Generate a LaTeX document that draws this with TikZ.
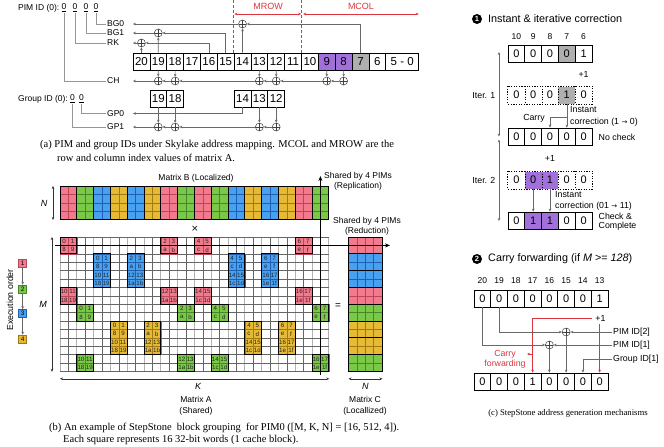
\documentclass[tikz,border=0pt]{standalone}
\usepackage{fontspec}
\setmainfont{Liberation Serif}
\setsansfont{Liberation Sans}
\newfontfamily\djv{DejaVu Sans}
\usetikzlibrary{arrows.meta}
\definecolor{cP}{RGB}{243,122,140}
\definecolor{dP}{RGB}{185,70,90}
\definecolor{cG}{RGB}{122,200,72}
\definecolor{dG}{RGB}{70,135,40}
\definecolor{cB}{RGB}{72,160,240}
\definecolor{dB}{RGB}{30,95,175}
\definecolor{cY}{RGB}{230,186,52}
\definecolor{dY}{RGB}{160,120,20}
\definecolor{purp}{RGB}{162,112,218}
\definecolor{grayb}{RGB}{175,175,175}
\definecolor{redc}{RGB}{222,52,62}
\definecolor{connc}{RGB}{105,105,105}
\definecolor{leadc}{RGB}{150,150,150}
\newcommand\fsz[1]{\fontsize{#1}{#1}\selectfont}
\newcommand\mblock[5]{%
  \foreach \l [count=\k from 0] in {#5} {
    \pgfmathsetmacro\xx{60+8.4*(#1+mod(\k,2))}
    \pgfmathsetmacro\yy{237+8.4*(#2+floor(\k/2))}
    \filldraw[fill=c#4, draw=d#4, line width=0.4pt] (\xx,\yy) rectangle ++(8.4,8.4);
    \node[celltxt] at ({\xx+4.2},{\yy+4.4}) {\l};
  }
  \draw[black, line width=0.8pt] ({60+8.4*#1},{237+8.4*#2}) rectangle ++(16.8,{8.4*#3});
}
\begin{document}
\begin{tikzpicture}[x=1pt,y=-1pt,
  >={Stealth[length=3pt,width=2.6pt]},
  font=\sffamily\fsz{8.5},
  bitbox/.style={draw=black, line width=0.7pt, minimum width=16.85pt, minimum height=17pt, inner sep=0, font=\sffamily\fsz{11.5}, fill=white},
  cbox/.style={bitbox, minimum width=16.8pt, font=\sffamily\fsz{11}},
  nbox/.style={cbox, draw=none},
  dotbox/.style={black, line width=0.7pt, dash pattern=on 1.3pt off 1.3pt},
  xo/.style={circle, draw=black!75, line width=0.5pt, minimum size=8pt, inner sep=0, fill=white,
     path picture={\draw[black!75, line width=0.5pt] (path picture bounding box.north) -- (path picture bounding box.south) (path picture bounding box.west) -- (path picture bounding box.east);}},
  conn/.style={draw=connc, line width=0.6pt},
  lead/.style={draw=leadc, line width=0.6pt},
  side/.style={anchor=west, inner xsep=1.5pt, inner ysep=0, text width=24pt, font=\sffamily\fsz{8.5}},
  side2/.style={anchor=west, inner xsep=1.5pt, inner ysep=0, font=\sffamily\fsz{8.8}},
  capt/.style={font=\rmfamily\fsz{10.5}, inner sep=0, anchor=west},
  celltxt/.style={font=\sffamily\fsz{6.2}, inner sep=0, text=black!85},
  ebox/.style={minimum size=8pt, inner sep=0, line width=0.5pt, font=\sffamily\fsz{6.5}},
  small/.style={font=\sffamily\fsz{8.8}, inner sep=0},
  bignum/.style={font=\sffamily\fsz{8.5}, inner sep=0},
  bigarrow/.style={black, line width=1.1pt, -{Stealth[length=5pt,width=4pt]}},
  dimarrow/.style={black!80, line width=0.6pt, <->}
]
\useasboundingbox (0,0) rectangle (664,447);

%%%%%%%%%%%%%%%%%%%% (a)
\coordinate (topln) at (0,0);
\node[anchor=west, inner sep=0] (pimid) at (18,8) {PIM ID (0):};
\foreach \n/\x in {p3/64,p2/75,p1/86,p0/96} \node[inner sep=0.5pt] (\n) at (\x,8) {\underline{0}};
\node[side] (bg0) at (105.5,24) {BG0};
\node[side] (bg1) at (105.5,33) {BG1};
\node[side] (rk) at (105.5,43) {RK};
\node[side] (ch) at (105.5,81) {CH};
\node[side] (gp0) at (105.5,113.5) {GP0};
\node[side] (gp1) at (105.5,127) {GP1};
\draw[lead] (p0.south) |- (bg0.west);
\draw[lead] (p1.south) |- (bg1.west);
\draw[lead] (p2.south) |- (rk.west);
\draw[lead] (p3.south) |- (ch.west);

\foreach \t/\c [count=\i from 0] in {20/white,19/white,18/white,17/white,16/white,15/white,14/white,13/white,12/white,11/white,10/white,9/purp,8/purp,7/grayb,6/white}
  \node[bitbox, fill=\c] (b\t) at ({141.425+16.85*\i},61.5) {\t};
\node[bitbox, minimum width=33pt] (b50) at (402.25,61.5) {5 - 0};

\node[xo] (xbg0) at (242.525,24) {};
\node[xo] (xbg1) at (158.275,33) {};
\node[xo] (xrk) at (141.425,43) {};
\draw[conn,->] (b7.north) |- (xbg0);
\draw[conn,->] (b14.north) -- (xbg0);
\draw[conn,->] (xbg0) -- (bg0);
\draw[conn,->] (b15.north) |- (xbg1);
\draw[conn,->] (b19.north) -- (xbg1);
\draw[conn,->] (xbg1) -- (bg1);
\draw[conn,->] (b16.north) |- (xrk);
\draw[conn,->] (b20.north) -- (xrk);
\draw[conn,->] (xrk) -- (rk);

\foreach \t/\x in {19/158.275,18/175.125,13/259.375,12/276.225,9/326.775,8/343.625} {
  \node[xo] (xc\t) at (\x,81) {};
  \draw[conn,->] (b\t.south) -- (xc\t);
}
\draw[conn,->] (xc8) -- (xc9);
\draw[conn,->] (xc9) -- (xc12);
\draw[conn,->] (xc12) -- (xc13);
\draw[conn,->] (xc13) -- (xc18);
\draw[conn,->] (xc18) -- (xc19);
\draw[conn,->] (xc19) -- (ch);

\node[anchor=west, inner sep=0] (gid) at (18,99) {Group ID (0):};
\node[inner sep=0.5pt] (q1) at (72.5,99) {\underline{0}};
\node[inner sep=0.5pt] (q0) at (81.5,99) {\underline{0}};
\draw[lead] (q0.south) |- (gp0.west);
\draw[lead] (q1.south) |- (gp1.west);
\foreach \t/\x in {19/158.275,18/175.125,14/242.525,13/259.375,12/276.225}
  \node[bitbox] (g\t) at (\x,98.5) {\t};
\draw[conn,->] (g14.south) |- (gp0);
\foreach \t/\x in {19/158.275,18/175.125,13/259.375,12/276.225} {
  \node[xo] (xg\t) at (\x,127) {};
  \draw[conn,->] (g\t.south) -- (xg\t);
}
\draw[conn,->] (xg12) -- (xg13);
\draw[conn,->] (xg13) -- (xg18);
\draw[conn,->] (xg18) -- (xg19);
\draw[conn,->] (xg19) -- (gp1);

\draw[redc, line width=0.6pt, dash pattern=on 3pt off 2pt] (b14.north west) -- (b14.north west |- topln);
\draw[redc, line width=0.6pt, dash pattern=on 3pt off 2pt] (b10.north west) -- (b10.north west |- topln);
\coordinate (mr0) at (234.3,14);
\coordinate (mr1) at (301.2,14);
\coordinate (mc0) at (303.2,14);
\coordinate (mc1) at (418.75,14);
\draw[redc, line width=0.6pt, {Stealth[length=3pt,width=2.6pt]}-{Stealth[length=3pt,width=2.6pt]}] (mr0) -- (mr1);
\draw[redc, line width=0.6pt, {Stealth[length=3pt,width=2.6pt]}-{Stealth[length=3pt,width=2.6pt]}] (mc0) -- (mc1);
\node[text=redc, font=\sffamily\fsz{9}] (mrow) at (268,6.5) {MROW};
\node[text=redc, font=\sffamily\fsz{9}] (mcol) at (361,6.5) {MCOL};

\node[capt] (capa1) at (40,145) {(a) PIM and group IDs under Skylake address mapping. MCOL and MROW are the};
\node[capt] (capa2) at (57,158) {row and column index values of matrix A.};

%%%%%%%%%%%%%%%%%%%% (b)
\node (mbl) at (196,178) {Matrix B (Localized)};
\foreach \c [count=\j from 0] in {P,G,B,Y,B,Y,P,G,P,G,B,Y,B,Y,P,G} {
  \pgfmathsetmacro\xa{60+16.8*\j}
  \fill[c\c] (\xa,186) rectangle ++(16.8,33.6);
  \draw[d\c, line width=0.45pt] ({\xa+8.4},186) -- ++(0,33.6)
     (\xa,194.4) -- ++(16.8,0) (\xa,202.8) -- ++(16.8,0) (\xa,211.2) -- ++(16.8,0);
  \draw[black, line width=0.7pt] (\xa,186) rectangle ++(16.8,33.6);
}
\node[minimum width=268.8pt, minimum height=33.6pt, inner sep=0, anchor=north west] (matB) at (60,186) {};
\draw[dimarrow] ([xshift=-7pt]matB.north west) -- ([xshift=-7pt]matB.south west);
\node[font=\sffamily\itshape\fsz{9}] (nB) at (44,203) {N};
\node[font=\djv\fsz{9}] (times) at (195,229) {×};

% grid of matrix A
\foreach \i in {0,2,...,32} \draw[black!30, line width=1.0pt] ({60+8.4*\i},237) -- ++(0,134.4);
\foreach \i in {1,3,...,31} \draw[black!60, line width=0.45pt] ({60+8.4*\i},237) -- ++(0,134.4);
\foreach \r in {0,...,16} \draw[black!60, line width=0.45pt] (60,{237+8.4*\r}) -- ++(268.8,0);
\node[minimum width=268.8pt, minimum height=134.4pt, inner sep=0, anchor=north west] (matA) at (60,237) {};

\mblock{0}{0}{2}{P}{0,1,8,9}
\mblock{12}{0}{2}{P}{2,3,a,b}
\mblock{16}{0}{2}{P}{4,5,c,d}
\mblock{28}{0}{2}{P}{6,7,e,f}
\mblock{4}{2}{4}{B}{0,1,8,9,10,11,18,19}
\mblock{8}{2}{4}{B}{2,3,a,b,12,13,1a,1b}
\mblock{20}{2}{4}{B}{4,5,c,d,14,15,1c,1d}
\mblock{24}{2}{4}{B}{6,7,e,f,16,17,1e,1f}
\mblock{0}{6}{2}{P}{10,11,18,19}
\mblock{12}{6}{2}{P}{12,13,1a,1b}
\mblock{16}{6}{2}{P}{14,15,1c,1d}
\mblock{28}{6}{2}{P}{16,17,1e,1f}
\mblock{2}{8}{2}{G}{0,1,8,9}
\mblock{14}{8}{2}{G}{2,3,a,b}
\mblock{18}{8}{2}{G}{4,5,c,d}
\mblock{30}{8}{2}{G}{6,7,e,f}
\mblock{6}{10}{4}{Y}{0,1,8,9,10,11,18,19}
\mblock{10}{10}{4}{Y}{2,3,a,b,12,13,1a,1b}
\mblock{22}{10}{4}{Y}{4,5,c,d,14,15,1c,1d}
\mblock{26}{10}{4}{Y}{6,7,e,f,16,17,1e,1f}
\mblock{2}{14}{2}{G}{10,11,18,19}
\mblock{14}{14}{2}{G}{12,13,1a,1b}
\mblock{18}{14}{2}{G}{14,15,1c,1d}
\mblock{30}{14}{2}{G}{16,17,1e,1f}

\draw[dimarrow] ([xshift=-8pt]matA.north west) -- ([xshift=-8pt]matA.south west);
\node[font=\sffamily\itshape\fsz{9}] (mA) at (43,304) {M};
\draw[dimarrow] ([yshift=-7pt]matA.south west) -- ([yshift=-7pt]matA.south east);
\node[font=\sffamily\itshape\fsz{9}] (kA) at (198,386) {K};

% matrix C
\foreach \c [count=\j from 0] in {P,B,B,P,G,Y,Y,G} {
  \pgfmathsetmacro\yb{237+16.8*\j}
  \fill[c\c] (348.5,\yb) rectangle ++(33.6,16.8);
  \draw[d\c, line width=0.45pt] (356.9,\yb) -- ++(0,16.8) (365.3,\yb) -- ++(0,16.8) (373.7,\yb) -- ++(0,16.8)
     (348.5,{\yb+8.4}) -- ++(33.6,0);
  \draw[black, line width=0.7pt] (348.5,\yb) rectangle ++(33.6,16.8);
}
\node[minimum width=33.6pt, minimum height=134.4pt, inner sep=0, anchor=north west] (matC) at (348.5,237) {};
\draw[dimarrow] ([yshift=-7pt]matC.south west) -- ([yshift=-7pt]matC.south east);
\node[font=\sffamily\itshape\fsz{9}] (nC) at (365.3,386) {N};
\node[font=\sffamily\fsz{10}] (eq) at (338,306) {=};

\coordinate (redS) at (55,245.4);
\coordinate (redE) at (390,245.4);
\coordinate (repS) at (320.4,375);
\coordinate (repE) at (320.4,176);
\draw[bigarrow] (redS) -- (redE);
\draw[bigarrow] (repS) -- (repE);
\node[align=center, font=\sffamily\fontsize{8.5}{10}\selectfont] (repl) at (358,181) {Shared by 4 PIMs\\(Replication)};
\node[align=center, font=\sffamily\fontsize{8.5}{10}\selectfont] (redu) at (367,226) {Shared by 4 PIMs\\(Reduction)};

\node[align=center, font=\sffamily\fontsize{8.5}{11}\selectfont] (labA) at (196,405.5) {Matrix A\\(Shared)};
\node[align=center, font=\sffamily\fontsize{8.5}{11}\selectfont] (labC) at (365,405.5) {Matrix C\\(Locallized)};

\node[rotate=90, font=\sffamily\fsz{8.8}] (exo) at (10,300) {Execution order};
\node[ebox, fill=cP, draw=dP] (e1) at (22.7,263) {1};
\node[ebox, fill=cG, draw=dG] (e2) at (22.7,289) {2};
\node[ebox, fill=cB, draw=dB] (e3) at (22.7,313.5) {3};
\node[ebox, fill=cY, draw=dY] (e4) at (22.7,339) {4};
\draw[conn,->] (e1) -- (e2);
\draw[conn,->] (e2) -- (e3);
\draw[conn,->] (e3) -- (e4);

\node[capt] (capb1) at (49,428) {(b) An example of StepStone\ \ block grouping\ \ for PIM0 ([M, K, N] = [16, 512, 4]).};
\node[capt] (capb2) at (63,440) {Each square represents 16 32-bit words (1 cache block).};

%%%%%%%%%%%%%%%%%%%% (c)
\node[circle, fill=black, text=white, inner sep=0, minimum size=10pt, font=\sffamily\bfseries\fsz{7.5}] (h1) at (477,19) {1};
\node[anchor=west, font=\sffamily\fsz{10.8}, inner sep=0] (h1t) at (488,19) {Instant \& iterative correction};
\foreach \t [count=\i from 0] in {10,9,8,7,6} \node[bignum] (ci\i) at ({516.4+16.8*\i},37) {\t};
\foreach \v/\c [count=\i from 0] in {0/white,0/white,0/white,0/grayb,1/white}
  \node[cbox, fill=\c] (ra\i) at ({516.4+16.8*\i},53.5) {\v};
\foreach \v/\c [count=\i from 0] in {0/white,0/white,0/white,1/grayb,0/white}
  \node[nbox, fill=\c] (rb\i) at ({516.4+16.8*\i},95) {\v};
\draw[dotbox] (rb0.north west) rectangle (rb4.south east);
\foreach \i in {0,1,2,3} \draw[dotbox] (rb\i.north east) -- (rb\i.south east);
\foreach \v [count=\i from 0] in {0,0,0,0,0}
  \node[cbox] (rc\i) at ({516.4+16.8*\i},136.5) {\v};
\foreach \v/\c [count=\i from 0] in {0/white,0/purp,1/purp,0/white,0/white}
  \node[nbox, fill=\c] (rd\i) at ({516.4+16.8*\i},180) {\v};
\draw[dotbox] (rd0.north west) rectangle (rd4.south east);
\foreach \i in {0,1,2,3} \draw[dotbox] (rd\i.north east) -- (rd\i.south east);
\foreach \v/\c [count=\i from 0] in {0/white,1/purp,1/purp,0/white,0/white}
  \node[cbox, fill=\c] (re\i) at ({516.4+16.8*\i},220.5) {\v};

\node[small] (pa) at (583.6,74) {+1};
\node[small] (pb) at (550,158) {+1};
\node[small, anchor=east] (it1) at (495.5,96) {Iter. 1};
\node[small, anchor=east] (it2) at (495.5,180) {Iter. 2};
\coordinate (it1a) at (499,52);
\coordinate (it1b) at (499,136.5);
\coordinate (it2a) at (499,139.5);
\coordinate (it2b) at (499,221);
\draw[conn,<->] (it1a) -- (it1b);
\draw[conn,<->] (it2a) -- (it2b);

\coordinate (cyy) at (0,117);
\draw[conn,->] (rb3.south) -- (rc3.north);
\draw[conn,->] (rb3.south |- cyy) -| (rc2.north);
\node[small] (carry) at (534,118) {Carry};
\node[small, anchor=west] (ins1) at (570,110) {Instant};
\node[small, anchor=west] (cor1) at (570,122) {correction (1 {\djv\fsz{7}→} 0)};
\node[small, anchor=west] (nochk) at (598.5,137) {No check};
\draw[conn,->] (rd1.south) -- (re1.north);
\draw[conn,->] (rd2.south) -- (re2.north);
\node[small, anchor=west] (ins2) at (555,195) {Instant};
\node[small, anchor=west] (cor2) at (555,206) {correction (01 {\djv\fsz{7}→} 11)};
\node[small, anchor=west] (chk1) at (598.5,216) {Check \&};
\node[small, anchor=west] (chk2) at (598.5,226.5) {Complete};

\node[circle, fill=black, text=white, inner sep=0, minimum size=10pt, font=\sffamily\bfseries\fsz{7.5}] (h2) at (477,259) {2};
\node[anchor=west, font=\sffamily\fsz{10.8}, inner sep=0] (h2t) at (488,259) {Carry forwarding (if \textit{M} >= \textit{128})};
\foreach \t [count=\i from 0] in {20,19,18,17,16,15,14,13} \node[bignum] (cj\i) at ({482.4+16.75*\i},281) {\t};
\foreach \v [count=\i from 0] in {0,0,0,0,0,0,0,1}
  \node[cbox, minimum width=16.75pt] (ta\i) at ({482.4+16.75*\i},298.5) {\v};
\foreach \v [count=\i from 0] in {0,0,0,1,0,0,0,0}
  \node[cbox, minimum width=16.75pt] (tb\i) at ({482.4+16.75*\i},381.5) {\v};

\node[small, inner sep=0.8pt] (p1c) at (600.5,318.5) {+1};
\draw[redc, line width=0.6pt, ->] ([xshift=-2.5pt]p1c.west) -| (tb3.north);
\draw[redc, line width=0.6pt, ->] ([yshift=-1.5pt]p1c.south -| tb7.north) -- (tb7.north);

\node[side2] (pim2) at (611.5,332) {PIM ID[2]};
\node[side2] (pim1) at (611.5,345) {PIM ID[1]};
\node[side2] (gid1) at (611.5,359) {Group ID[1]};
\node[xo] (xa) at (566.15,332) {};
\node[xo] (xb) at (549.4,345) {};
\draw[conn,->] (ta1.south) |- (xa);
\draw[conn,->] (pim2) -- (xa);
\draw[conn,->] (xa) -- (tb5.north);
\draw[conn,->] (ta0.south) |- (xb);
\draw[conn,->] (pim1) -- (xb);
\draw[conn,->] (xb) -- (tb4.north);
\draw[conn,->] (gid1) -| (tb6.north);

\node[text=redc, align=center, font=\sffamily\fontsize{8.8}{10}\selectfont] (cf) at (505,359) {Carry\\forwarding};
\coordinate (cfa) at (532.6,354);
\coordinate (cfb) at (527,354);
\draw[redc, line width=0.5pt, ->] (cfa) -- (cfb);

\node[font=\rmfamily\fsz{8.7}] (capc) at (568,413) {(c) StepStone address generation mechanisms};
\end{tikzpicture}
\end{document}
